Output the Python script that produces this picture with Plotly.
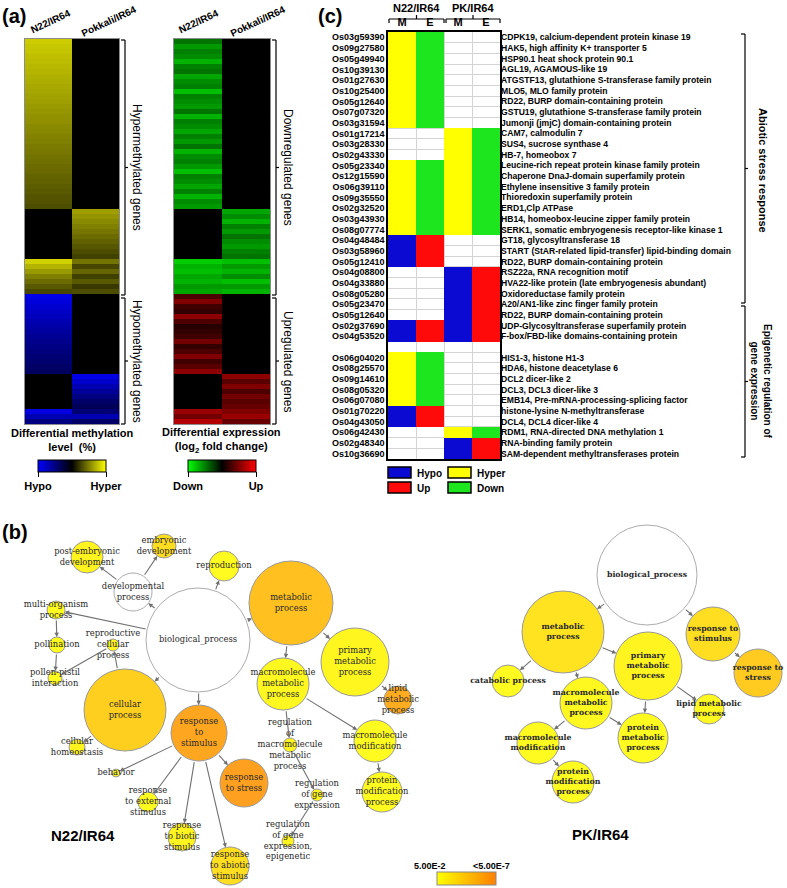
import plotly.graph_objects as go

W, H = 787, 888


def px(x):
    return x / W


def py(y):
    return 1 - y / H


# ---------------- (a) heatmap data (rows top -> bottom) ----------------
heat_cols = ["N22/IR64", "Pokkali/IR64"]
meth_n22 = [80, 78, 77, 75, 74, 72, 71, 69, 68, 66, 65, 63, 62, 60, 59, 57, 56, 54, 53, 51,
            50, 48, 47, 45, 44, 42, 41, 39, 38, 36, 35, 33, 32, 30,
            0, 0, 0, 0, 0, 0, 0, 0, 0, 0,
            82, 70, 60, 50, 42, 35, 28,
            -90, -86, -82, -78, -74, -70, -66, -62, -58, -55, -52, -49, -46, -43, -40, -37,
            0, 0, 0, 0, 0, 0, 0,
            -88, -70, -50]
meth_pk = [0, 0, 0, 0, 0, 0, 0, 0, 0, 0, 0, 0, 0, 0, 0, 0, 0, 0, 0, 0,
           0, 0, 0, 0, 0, 0, 0, 0, 0, 0, 0, 0, 0, 0,
           62, 58, 54, 50, 46, 42, 38, 34, 30, 26,
           45, 28, 40, 25, 35, 22, 30,
           0, 0, 0, 0, 0, 0, 0, 0, 0, 0, 0, 0, 0, 0, 0, 0,
           -90, -80, -70, -60, -50, -42, -35,
           -45, -70, -40]
expr_n22 = [-0.45, -0.6, -0.5, -0.55, -0.7, -0.5, -0.45, -0.65, -0.55, -0.5,
            -0.75, -0.5, -0.55, -0.6, -0.45, -0.7, -0.5, -0.55, -0.65, -0.5,
            -0.6, -0.45, -0.7, -0.55, -0.5, -0.6, -0.75, -0.5, -0.55, -0.65,
            -0.5, -0.7, -0.55, -0.6,
            0, 0, 0, 0, 0, 0, 0, 0, 0, 0,
            -0.8, -0.7, -0.75, -0.65, -0.7, -0.6, -0.65,
            0.3, 0.5, 0.25, 0.2, 0.55, 0.3, 0.15, 0.2, 0.25, 0.45, 0.2, 0.3, 0.5, 0.25, 0.35, 0.55,
            0, 0, 0, 0, 0, 0, 0,
            0.6, 0.45, 0.7]
expr_pk = [0, 0, 0, 0, 0, 0, 0, 0, 0, 0, 0, 0, 0, 0, 0, 0, 0, 0, 0, 0,
           0, 0, 0, 0, 0, 0, 0, 0, 0, 0, 0, 0, 0, 0,
           -0.65, -0.55, -0.7, -0.5, -0.6, -0.45, -0.55, -0.6, -0.5, -0.45,
           -0.75, -0.6, -0.7, -0.55, -0.75, -0.6, -0.7,
           0, 0, 0, 0, 0, 0, 0, 0, 0, 0, 0, 0, 0, 0, 0, 0,
           0.55, 0.35, 0.5, 0.3, 0.45, 0.35, 0.4,
           0.5, 0.6, 0.4]

# ---------------- (c) table data ----------------
gene_ids = ["Os03g59390", "Os09g27580", "Os05g49940", "Os10g39130", "Os01g27630",
            "Os10g25400", "Os05g12640", "Os07g07320", "Os03g31594", "Os01g17214",
            "Os03g28330", "Os02g43330", "Os05g23340", "Os12g15590", "Os06g39110",
            "Os09g35550", "Os02g32520", "Os03g43930", "Os08g07774", "Os04g48484",
            "Os03g58960", "Os05g12410", "Os04g08800", "Os04g33880", "Os08g05280",
            "Os05g23470", "Os05g12640", "Os02g37690", "Os04g53520", "",
            "Os06g04020", "Os08g25570", "Os09g14610", "Os08g05320", "Os06g07080",
            "Os01g70220", "Os04g43050", "Os06g42430", "Os02g48340", "Os10g36690"]
gene_desc = ["CDPK19, calcium-dependent protein kinase 19",
             "HAK5, high affinity K+ transporter 5",
             "HSP90.1 heat shock protein 90.1",
             "AGL19, AGAMOUS-like 19",
             "ATGSTF13, glutathione S-transferase family protein",
             "MLO5, MLO family protein",
             "RD22, BURP domain-containing protein",
             "GSTU19, glutathione S-transferase family protein",
             "Jumonji (jmjC) domain-containing protein",
             "CAM7, calmodulin 7",
             "SUS4, sucrose synthase 4",
             "HB-7, homeobox 7",
             "Leucine-rich repeat protein kinase family protein",
             "Chaperone DnaJ-domain superfamily protein",
             "Ethylene insensitive 3 family protein",
             "Thioredoxin superfamily protein",
             "ERD1,Clp ATPase",
             "HB14, homeobox-leucine zipper family protein",
             "SERK1, somatic embryogenesis receptor-like kinase 1",
             "GT18, glycosyltransferase 18",
             "START (StAR-related lipid-transfer) lipid-binding domain",
             "RD22, BURP domain-containing protein",
             "RSZ22a, RNA recognition motif",
             "HVA22-like protein (late embryogenesis abundant)",
             "Oxidoreductase family protein",
             "A20/AN1-like zinc finger family protein",
             "RD22, BURP domain-containing protein",
             "UDP-Glycosyltransferase superfamily protein",
             "F-box/FBD-like domains-containing protein",
             "",
             "HIS1-3, histone H1-3",
             "HDA6, histone deacetylase 6",
             "DCL2 dicer-like 2",
             "DCL3, DCL3 dicer-like 3",
             "EMB14, Pre-mRNA-processing-splicing factor",
             "histone-lysine N-methyltransferase",
             "DCL4, DCL4 dicer-like 4",
             "RDM1, RNA-directed DNA methylation 1",
             "RNA-binding family protein",
             "SAM-dependent methyltransferases protein"]
# Y = Hyper, B = Hypo, G = Down, R = Up, - = none
n22_M = "YYYYYYYYY---YYYYYYYBBB-----BB-YYYYYBB---"
n22_E = "GGGGGGGGG---GGGGGGGRRR-----RR-GGGGGRR---"
pk_M = "---------YYYYYYYYYY---BBBBBBB--------YBB"
pk_E = "---------GGGGGGGGGG---RRRRRRR--------GRR"
table_cols = ["M", "E", "M", "E"]

# ---------------- (b) GO networks ----------------
left_names = ["biological_process", "developmental<br>process", "post-embryonic<br>development",
              "embryonic<br>development", "reproduction", "metabolic<br>process",
              "multi-organism<br>process", "pollination", "reproductive<br>cellular<br>process",
              "pollen-pistil<br>interaction", "primary<br>metabolic<br>process", "cellular<br>process",
              "macromolecule<br>metabolic<br>process", "lipid<br>metabolic<br>process",
              "response<br>to<br>stimulus", "cellular<br>homeostasis", "macromolecule<br>modification",
              "regulation<br>of<br>macromolecule<br>metabolic<br>process", "behavior",
              "response<br>to stress", "regulation<br>of gene<br>expression",
              "protein<br>modification<br>process", "response<br>to external<br>stimulus",
              "response<br>to biotic<br>stimulus", "response<br>to abiotic<br>stimulus",
              "regulation<br>of gene<br>expression,<br>epigenetic"]
left_x = [198, 133, 87, 164, 224, 291, 56, 57, 113, 55, 355, 125, 283, 398, 199, 77, 375, 290,
          116, 244, 317, 382, 148, 182, 230, 288]
left_y = [640, 592, 557, 546, 566, 603, 610, 645, 645, 678, 662, 710, 684, 700, 733, 747, 741,
          745, 773, 783, 795, 792, 802, 837, 866, 841]
left_r = [52, 19, 16, 12, 15, 42, 9, 8, 6, 7, 34, 41, 26, 14, 28, 8, 21, 7, 4, 24, 6, 20, 10,
          14, 19, 6]
left_logp = [None, None, 1.8, 2.8, 1.5, 4.1, 1.5, 1.5, 1.8, 1.5, 1.7, 3.4, 1.6, 5.0, 5.3, 1.8,
             1.5, 1.8, 1.8, 5.5, 1.8, 1.5, 1.5, 1.8, 2.8, 1.8]
left_edges = [(0, 1), (1, 2), (1, 3), (0, 4), (0, 5), (0, 6), (6, 7), (7, 9), (8, 9), (11, 8),
              (0, 11), (11, 15), (0, 14), (5, 10), (5, 12), (10, 13), (12, 16), (12, 17),
              (17, 20), (20, 25), (16, 21), (14, 18), (14, 22), (14, 23), (14, 24), (14, 19)]

right_names = ["biological_process", "metabolic<br>process", "response to<br>stimulus",
               "primary<br>metabolic<br>process", "response to<br>stress", "catabolic process",
               "macromolecule<br>metabolic<br>process", "lipid metabolic<br>process",
               "protein<br>metabolic<br>process", "macromolecule<br>modification",
               "protein<br>modification<br>process"]
right_x = [647, 563, 713, 648, 758, 508, 586, 709, 643, 538, 573]
right_y = [575, 632, 634, 666, 673, 681, 703, 709, 738, 743, 782]
right_r = [50, 41, 27, 34, 24, 16, 26, 15, 25, 21, 21]
right_logp = [None, 2.5, 2.8, 1.8, 3.6, 1.5, 1.6, 1.6, 1.5, 1.5, 1.5]
right_edges = [(0, 1), (0, 2), (2, 4), (1, 5), (1, 3), (1, 6), (3, 7), (3, 8), (6, 8), (6, 9),
               (9, 10)]

pval_range = [1.3, 6.3]  # -log10(5e-2) .. -log10(5e-7)

FONT = "Liberation Sans, Arial, sans-serif"
SERIF = "DejaVu Serif, serif"

fig = go.Figure()

# ---- (a) heatmaps ----
rows = list(range(len(meth_n22)))
fig.add_trace(go.Heatmap(
    z=[[a, b] for a, b in zip(meth_n22, meth_pk)], x=[0, 1], y=rows,
    colorscale=[[0, "#0000ff"], [0.5, "#000000"], [1, "#ffff00"]], zmin=-100, zmax=100,
    xaxis="x", yaxis="y", hoverinfo="skip",
    colorbar=dict(orientation="h", x=px(72), xanchor="center", y=py(460), yanchor="top",
                  len=68, lenmode="pixels", thickness=12, xpad=0, ypad=0,
                  outlinewidth=1, outlinecolor="black",
                  tickvals=[-100, 100], ticktext=["<b>Hypo</b>", "<b>Hyper</b>"],
                  ticks="outside", ticklen=5, tickcolor="black",
                  tickfont=dict(size=11, color="black", family=FONT))))
fig.add_trace(go.Heatmap(
    z=[[a, b] for a, b in zip(expr_n22, expr_pk)], x=[0, 1], y=rows,
    colorscale=[[0, "#00ff00"], [0.5, "#000000"], [1, "#ff0000"]], zmin=-1, zmax=1,
    xaxis="x2", yaxis="y2", hoverinfo="skip",
    colorbar=dict(orientation="h", x=px(222), xanchor="center", y=py(460), yanchor="top",
                  len=68, lenmode="pixels", thickness=12, xpad=0, ypad=0,
                  outlinewidth=1, outlinecolor="black",
                  tickvals=[-1, 1], ticktext=["<b>Down</b>", "<b>Up</b>"],
                  ticks="outside", ticklen=5, tickcolor="black",
                  tickfont=dict(size=11, color="black", family=FONT))))

# ---- (c) table heatmap ----
code = {"Y": 1, "G": 2, "B": 3, "R": 4, "-": None}
tz = [[code[a], code[b], code[c], code[d]] for a, b, c, d in zip(n22_M, n22_E, pk_M, pk_E)]
Y, G, B, R = "#ffff00", "#1ee61e", "#0a0ad2", "#ff0a0a"
fig.add_trace(go.Heatmap(
    z=tz, x=list(range(len(table_cols))), y=list(range(len(gene_ids))),
    colorscale=[[0, Y], [0.25, Y], [0.25, G], [0.5, G], [0.5, B], [0.75, B], [0.75, R], [1, R]],
    zmin=0.5, zmax=4.5, showscale=False, xaxis="x3", yaxis="y3", hoverinfo="skip"))
fig.add_trace(go.Scatter(x=[0], y=[0], mode="markers", marker=dict(opacity=0),
                         xaxis="x3", yaxis="y4", hoverinfo="skip", showlegend=False))

# ---- (b) networks ----
def node_split(xs, ys, rs, vs):
    white = [(x, y, r) for x, y, r, v in zip(xs, ys, rs, vs) if v is None]
    col = [(x, y, r, v) for x, y, r, v in zip(xs, ys, rs, vs) if v is not None]
    return white, col


wl, cl = node_split(left_x, left_y, left_r, left_logp)
wr, cr = node_split(right_x, right_y, right_r, right_logp)
white = wl + wr
colored = cl + cr

fig.add_trace(go.Scatter(
    x=[w[0] for w in white], y=[w[1] for w in white], mode="markers",
    marker=dict(size=[2 * w[2] for w in white], color="white",
                line=dict(color="#8a8a8a", width=1)),
    xaxis="x5", yaxis="y5", hoverinfo="skip", showlegend=False))
fig.add_trace(go.Scatter(
    x=[c[0] for c in colored], y=[c[1] for c in colored], mode="markers",
    marker=dict(size=[2 * c[2] for c in colored], color=[c[3] for c in colored],
                colorscale=[[0, "#ffff00"], [1, "#ff7f00"]],
                cmin=pval_range[0], cmax=pval_range[1], opacity=0.87,
                line=dict(color="#8a8a8a", width=1),
                colorbar=dict(orientation="h", x=px(466.5), xanchor="center", y=py(886),
                              yanchor="bottom", len=59, lenmode="pixels", thickness=13,
                              xpad=0, ypad=0, outlinewidth=1, outlinecolor="#888",
                              showticklabels=False, ticks="")),
    xaxis="x5", yaxis="y5", hoverinfo="skip", showlegend=False))
fig.add_trace(go.Scatter(
    x=left_x, y=left_y, mode="text", text=left_names, textposition="middle center",
    textfont=dict(family=SERIF, size=8.4, color="#2a2a2a"),
    xaxis="x5", yaxis="y5", hoverinfo="skip", showlegend=False, cliponaxis=False))
fig.add_trace(go.Scatter(
    x=right_x, y=right_y, mode="text", text=["<b>%s</b>" % n for n in right_names],
    textposition="middle center",
    textfont=dict(family=SERIF, size=7.8, color="#2a2a2a"),
    xaxis="x5", yaxis="y5", hoverinfo="skip", showlegend=False, cliponaxis=False))

annotations = []


def arrows(xs, ys, rs, edges):
    for s, t in edges:
        annotations.append(dict(
            x=xs[t], y=ys[t], ax=xs[s], ay=ys[s], xref="x5", yref="y5", axref="x5", ayref="y5",
            text="", showarrow=True, arrowhead=2, arrowsize=0.8, arrowwidth=1.1,
            arrowcolor="#707070", standoff=rs[t], startstandoff=rs[s]))


arrows(left_x, left_y, left_r, left_edges)
arrows(right_x, right_y, right_r, right_edges)


def ann(x, y, text, size=11, bold=True, angle=0, xanchor="center", color="black"):
    annotations.append(dict(
        x=px(x), y=py(y), xref="paper", yref="paper", text=("<b>%s</b>" % text) if bold else text,
        showarrow=False, textangle=angle, xanchor=xanchor, yanchor="middle",
        font=dict(family=FONT, size=size, color=color)))


# panel labels
ann(0, 16, "(a)", size=20, xanchor="left")
ann(316, 16, "(c)", size=20, xanchor="left")
ann(0, 532, "(b)", size=20, xanchor="left")

# (a) rotated column headers
for cx, lab in [(50, heat_cols[0]), (108, heat_cols[1]), (198, heat_cols[0]), (257, heat_cols[1])]:
    ann(cx, 21, lab, size=10, angle=-25)

ann(72, 440, "Differential methylation<br>level  (%)", size=11)
ann(222, 440, "Differential expression<br>(log<sub>2</sub> fold change)", size=11)
ann(137, 167, "Hypermethylated genes", size=12, bold=False, angle=90)
ann(137, 361, "Hypomethylated genes", size=12, bold=False, angle=90)
ann(288, 167, "Downregulated genes", size=12, bold=False, angle=90)
ann(288, 361, "Upregulated genes", size=12, bold=False, angle=90)

# (c) headers and group labels
ann(416, 8, "N22/IR64", size=11)
ann(473, 8, "PK/IR64", size=11)
ann(763, 170, "Abiotic stress response", size=11, angle=90)
ann(761, 381, "Epigenetic regulation of<br>gene expression", size=10, angle=90)
ann(415, 473, "Hypo", size=10, xanchor="left")
ann(475, 473, "Hyper", size=10, xanchor="left")
ann(415, 488, "Up", size=10, xanchor="left")
ann(475, 488, "Down", size=10, xanchor="left")

# (b) labels
ann(83, 835, "N22/IR64", size=15)
ann(600, 834, "PK/IR64", size=15)
ann(430, 866, "5.00E-2", size=9)
ann(491, 866, "&lt;5.00E-7", size=9)

shapes = []


def seg(x0, y0, x1, y1, color="black", width=1.2):
    shapes.append(dict(type="line", xref="paper", yref="paper", x0=px(x0), y0=py(y0),
                       x1=px(x1), y1=py(y1), line=dict(color=color, width=width)))


def vbracket(x, y0, y1, tick=None):
    seg(x - 4, y0, x, y0)
    seg(x, y0, x, y1)
    seg(x - 4, y1, x, y1)
    ym = tick if tick is not None else (y0 + y1) / 2
    seg(x, ym, x + 3, ym)


vbracket(125, 40, 295)
vbracket(125, 298, 424)
vbracket(276, 40, 295)
vbracket(276, 298, 424)
vbracket(745, 34, 303)
vbracket(745, 306, 457)


def hbracket(x0, x1, y):
    seg(x0, y, x1, y)
    seg(x0, y, x0, y + 4)
    seg(x1, y, x1, y + 4)
    seg((x0 + x1) / 2, y, (x0 + x1) / 2, y - 4)


hbracket(389, 444, 19)
hbracket(446, 500, 19)

for (x0, y0, c) in [(388, 467, B), (448, 467, Y), (388, 482, R), (448, 482, G)]:
    shapes.append(dict(type="rect", xref="paper", yref="paper", x0=px(x0), x1=px(x0 + 23),
                       y0=py(y0), y1=py(y0 + 11), fillcolor=c, line=dict(color="black", width=1.5)))

heat_axis = dict(showticklabels=False, ticks="", showgrid=False, zeroline=False,
                 showline=True, mirror=True, linecolor="#8c8c8c", linewidth=1)
nrow = len(meth_n22)
ntab = len(gene_ids)
boundaries_x = [i + 0.5 for i in range(len(table_cols) - 1)]
boundaries_y = [i + 0.5 for i in range(ntab - 1)]

fig.update_layout(
    width=W, height=H, margin=dict(l=0, r=0, t=0, b=0),
    paper_bgcolor="white", plot_bgcolor="white",
    font=dict(family=FONT, color="black"),
    showlegend=False, hovermode=False,
    xaxis=dict(domain=[px(25), px(119)], range=[-0.5, 1.5], anchor="y", **heat_axis),
    yaxis=dict(domain=[py(424), py(39)], range=[nrow - 0.5, -0.5], anchor="x", **heat_axis),
    xaxis2=dict(domain=[px(174), px(270)], range=[-0.5, 1.5], anchor="y2", **heat_axis),
    yaxis2=dict(domain=[py(424), py(39)], range=[nrow - 0.5, -0.5], anchor="x2", **heat_axis),
    xaxis3=dict(domain=[px(388), px(500)], range=[-0.5, 3.5], anchor="y3", side="top",
                tickmode="array", tickvals=list(range(len(table_cols))),
                ticktext=["<b>%s</b>" % c for c in table_cols], ticks="",
                tickfont=dict(size=11, family=FONT), showgrid=False, zeroline=False,
                showline=True, mirror=True, linecolor="black", linewidth=1.5,
                minor=dict(tickmode="array", tickvals=boundaries_x, showgrid=True,
                           gridcolor="#d4d4d4", gridwidth=1, ticks="")),
    yaxis3=dict(domain=[py(459), py(32)], range=[ntab - 0.5, -0.5], anchor="x3",
                tickmode="array", tickvals=list(range(ntab)),
                ticktext=["<b>%s</b>" % g for g in gene_ids], ticks="",
                tickfont=dict(size=9, family=FONT), showgrid=False, zeroline=False,
                showline=True, mirror=True, linecolor="black", linewidth=1.5,
                minor=dict(tickmode="array", tickvals=boundaries_y, showgrid=True,
                           gridcolor="#d4d4d4", gridwidth=1, ticks="")),
    yaxis4=dict(overlaying="y3", side="right", anchor="x3", range=[ntab - 0.5, -0.5],
                tickmode="array", tickvals=list(range(ntab)),
                ticktext=["<b>%s</b>" % d for d in gene_desc], ticks="",
                tickfont=dict(size=8.6, family=FONT), showgrid=False, zeroline=False,
                showline=False),
    xaxis5=dict(domain=[0, 1], range=[0, W], anchor="y5", visible=False),
    yaxis5=dict(domain=[0, py(490)], range=[H, 490], anchor="x5", visible=False),
    annotations=annotations, shapes=shapes,
)

# remove the default 8px page margin so the figure sits at the window's top-left corner
fig.write_html("out.html", config={"displayModeBar": False},
               post_script="document.body.style.margin='0';")
